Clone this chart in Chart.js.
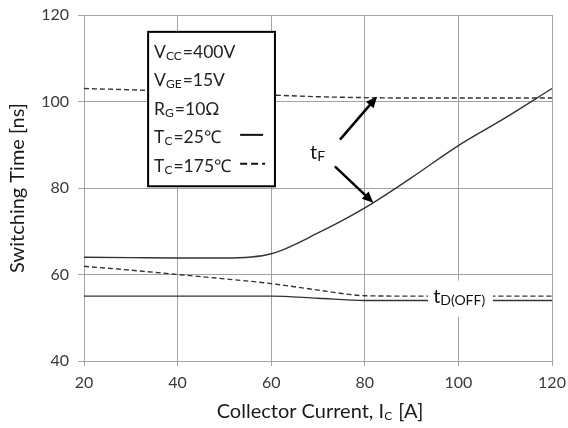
<!DOCTYPE html>
<html>
<head>
<meta charset="utf-8">
<script src="https://cdn.jsdelivr.net/npm/chart.js@4/dist/chart.umd.min.js"></script>
<style>
  html, body { margin: 0; padding: 0; background: #fff; }
  #wrap { width: 568px; height: 428px; }
</style>
</head>
<body>
<div id="wrap"><canvas id="chart" width="568" height="428"></canvas></div>
<script>
// data
const currents = [20, 30, 40, 50, 60, 70, 80, 90, 100, 110, 120];
const tF25 = [64, 63.9, 63.8, 63.8, 64.8, 69.6, 75.4, 82.4, 89.8, 96.2, 103];
const tF175 = [103, 102.7, 102.3, 101.9, 101.5, 101.1, 100.9, 100.8, 100.8, 100.8, 100.8];
const tD25 = [55, 55, 55, 55, 55, 54.5, 54, 54, 54, 54, 54];
const tD175 = [61.9, 61, 60, 59, 57.9, 56.4, 55.1, 55, 55, 55, 55];
const xTicks = [20, 40, 60, 80, 100, 120];
const yTicks = [40, 60, 80, 100, 120];

const FONT = 'Lato, "Open Sans", sans-serif';

function pts(ys) {
  return currents.map((x, i) => ({ x: x, y: ys[i] }));
}

// draw text like V_CC=400V, parts are [main, sub]
function drawSub(ctx, x, y, parts, size, subScale) {
  let cx = x;
  const k = subScale || 0.68;
  parts.forEach(p => {
    ctx.font = size + 'px ' + FONT;
    ctx.fillText(p[0], cx, y);
    cx += ctx.measureText(p[0]).width;
    if (p[1]) {
      ctx.font = Math.round(size * k) + 'px ' + FONT;
      ctx.fillText(p[1], cx, y + size * 0.22);
      cx += ctx.measureText(p[1]).width + 1;
    }
  });
  return cx - x;
}

function textWidth(ctx, parts, size, subScale) {
  let w = 0;
  const k = subScale || 0.68;
  parts.forEach(p => {
    ctx.font = size + 'px ' + FONT;
    w += ctx.measureText(p[0]).width;
    if (p[1]) {
      ctx.font = Math.round(size * k) + 'px ' + FONT;
      w += ctx.measureText(p[1]).width + 1;
    }
  });
  return w;
}

function arrow(ctx, x1, y1, x2, y2) {
  const a = Math.atan2(y2 - y1, x2 - x1);
  const L = 11, W = 5;
  ctx.beginPath();
  ctx.moveTo(x1, y1);
  ctx.lineTo(x2 - Math.cos(a) * L * 0.8, y2 - Math.sin(a) * L * 0.8);
  ctx.stroke();
  ctx.beginPath();
  ctx.moveTo(x2, y2);
  ctx.lineTo(x2 - Math.cos(a) * L - Math.sin(a) * W, y2 - Math.sin(a) * L + Math.cos(a) * W);
  ctx.lineTo(x2 - Math.cos(a) * L + Math.sin(a) * W, y2 - Math.sin(a) * L - Math.cos(a) * W);
  ctx.closePath();
  ctx.fill();
}

const notes = {
  id: 'notes',
  afterDatasetsDraw(chart) {
    const ctx = chart.ctx;
    const xs = chart.scales.x, ys = chart.scales.y;
    const X = v => xs.getPixelForValue(v), Y = v => ys.getPixelForValue(v);
    ctx.save();

    // tD(OFF) label with white box
    ctx.fillStyle = '#fff';
    ctx.fillRect(X(93.5), Y(58.6), X(107.4) - X(93.5), Y(50.2) - Y(58.6));
    ctx.fillStyle = '#111';
    ctx.textBaseline = 'middle';
    drawSub(ctx, X(94.6), Y(55.0), [['t', 'D(OFF)']], 20);

    // tF label and arrows
    drawSub(ctx, X(68.3), Y(88.2), [['t', 'F']], 20);
    ctx.strokeStyle = '#000';
    ctx.fillStyle = '#000';
    ctx.lineWidth = 2.5;
    arrow(ctx, X(74.7), Y(91.2), X(82.6), Y(101.1));
    arrow(ctx, X(73.6), Y(85.0), X(81.8), Y(76.6));

    // legend box
    const bx = X(33.7), by = Y(116.1), bw = X(60.8) - X(33.7), bh = Y(80.4) - Y(116.1);
    ctx.fillStyle = '#fff';
    ctx.fillRect(bx, by, bw, bh);
    ctx.strokeStyle = '#000';
    ctx.lineWidth = 2;
    ctx.strokeRect(bx, by, bw, bh);

    ctx.fillStyle = '#222';
    const rows = [
      [['V', 'CC'], ['=400V']],
      [['V', 'GE'], ['=15V']],
      [['R', 'G'], ['=10Ω']],
      [['T', 'C'], ['=25℃']],
      [['T', 'C'], ['=175℃']]
    ];
    rows.forEach((r, i) => {
      drawSub(ctx, bx + 6, by + 20 + i * 28.5, r, 17.5);
    });
    ctx.strokeStyle = '#111';
    ctx.lineWidth = 2;
    ctx.beginPath();
    ctx.moveTo(bx + 92, by + 103);
    ctx.lineTo(bx + 115, by + 103);
    ctx.stroke();
    ctx.setLineDash([7, 4]);
    ctx.beginPath();
    ctx.moveTo(bx + 92, by + 132);
    ctx.lineTo(bx + 117, by + 132);
    ctx.stroke();
    ctx.setLineDash([]);

    // x axis title with subscript
    const xt = [['Collector Current, I', 'C'], [' [A]']];
    const size = 20;
    ctx.fillStyle = '#1a1a1a';
    const w = textWidth(ctx, xt, size, 0.6);
    drawSub(ctx, (chart.chartArea.left + chart.chartArea.right) / 2 - w / 2 + 2, 412, xt, size, 0.6);
    ctx.restore();
  }
};

const lineStyle = {
  borderColor: '#333',
  borderWidth: 1.4,
  pointRadius: 0,
  cubicInterpolationMode: 'monotone',
  fill: false
};

new Chart(document.getElementById('chart'), {
  type: 'line',
  data: {
    datasets: [
      Object.assign({ label: 'tF 25', data: pts(tF25) }, lineStyle),
      Object.assign({ label: 'tF 175', data: pts(tF175), borderDash: [5, 3] }, lineStyle),
      Object.assign({ label: 'tD 25', data: pts(tD25) }, lineStyle),
      Object.assign({ label: 'tD 175', data: pts(tD175), borderDash: [5, 3] }, lineStyle)
    ]
  },
  options: {
    responsive: false,
    animation: false,
    layout: { padding: { top: 15, right: 16, left: 0, bottom: 0 } },
    plugins: { legend: { display: false }, tooltip: { enabled: false } },
    scales: {
      x: {
        type: 'linear',
        min: 20, max: 120,
        afterBuildTicks: s => { s.ticks = xTicks.map(v => ({ value: v })); },
        afterFit: s => { s.height = 67; s.paddingLeft = 0; s.paddingRight = 0; },
        grid: { color: '#a3a3a3', tickLength: 5, drawTicks: true },
        border: { color: '#a3a3a3' },
        ticks: { color: '#3a3a3a', font: { family: FONT, size: 16 }, padding: 7, maxRotation: 0 }
      },
      y: {
        min: 40, max: 120,
        afterBuildTicks: s => { s.ticks = yTicks.map(v => ({ value: v })); },
        afterFit: s => { s.width = 84; s.paddingTop = 0; s.paddingBottom = 0; },
        grid: { color: '#a3a3a3', tickLength: 6 },
        border: { color: '#a3a3a3' },
        ticks: { color: '#3a3a3a', font: { family: FONT, size: 16 }, padding: 9 },
        title: {
          display: true,
          text: 'Switching Time [ns]',
          color: '#1a1a1a',
          font: { family: FONT, size: 20 },
          padding: { bottom: 0, top: 6 }
        }
      }
    }
  },
  plugins: [notes]
});
</script>
</body>
</html>
